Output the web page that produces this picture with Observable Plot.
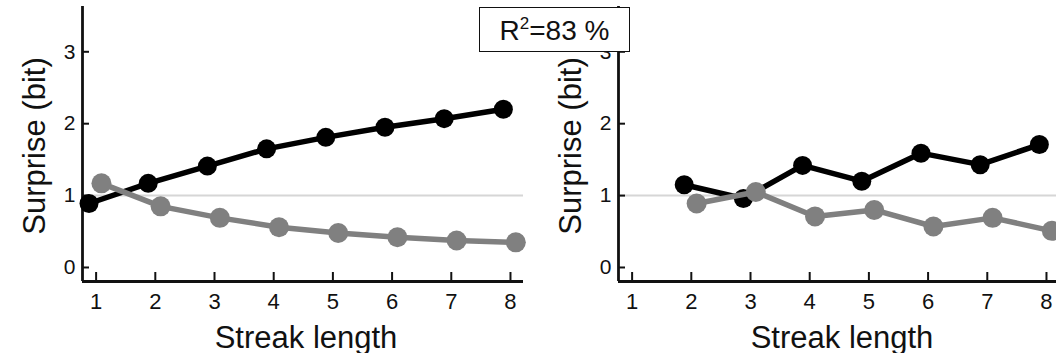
<!DOCTYPE html>
<html><head><meta charset="utf-8">
<script src="https://cdn.jsdelivr.net/npm/d3@7"></script>
<script src="https://cdn.jsdelivr.net/npm/@observablehq/plot@0.6"></script>
<style>
html,body{margin:0;padding:0;background:#fff;}
#wrap{position:relative;width:1056px;height:353px;overflow:hidden;font-family:"Liberation Sans",Arial,sans-serif;}
.panel{position:absolute;top:0;width:541px;height:353px;}
.panel svg{max-width:none !important;}
#r2{position:absolute;left:479px;top:7px;width:149px;height:43px;border:1.5px solid #111;background:#fff;font-size:28px;line-height:45px;text-align:center;color:#111;white-space:nowrap;}
#r2 .sup{font-size:17px;position:relative;top:-11px;}
</style></head><body>
<div id="wrap">
  <div id="left" class="panel" style="left:0px"></div>
  <div id="right" class="panel" style="left:536px"></div>
  <div id="r2">R<span class="sup">2</span>=83 %</div>
</div>
<script>
// data
const leftStreak = [1, 2, 3, 4, 5, 6, 7, 8];
const leftBlack  = [0.89, 1.17, 1.41, 1.65, 1.81, 1.95, 2.07, 2.20];
const leftGray   = [1.17, 0.85, 0.69, 0.56, 0.48, 0.42, 0.375, 0.35];
const rightStreak = [2, 3, 4, 5, 6, 7, 8];
const rightBlack  = [1.15, 0.96, 1.42, 1.20, 1.59, 1.43, 1.71];
const rightGray   = [0.89, 1.05, 0.71, 0.80, 0.57, 0.69, 0.51];
const xTicks = [1, 2, 3, 4, 5, 6, 7, 8];
const yTicks = [0, 1, 2, 3];
const xLabel = "Streak length";
const yLabel = "Surprise (bit)";
const refValue = 1;

const xDomain = [0.77, 8.22];
const yDomain = [-0.195, 3.63];
const blackShift = -0.12, grayShift = 0.09;

function panel(xs, black, gray) {
  const B = xs.map((x, i) => ({x: x + blackShift, y: black[i]}));
  const G = xs.map((x, i) => ({x: x + grayShift, y: gray[i]}));
  return Plot.plot({
    width: 541, height: 353,
    marginLeft: 82, marginRight: 18, marginTop: 6, marginBottom: 72,
    x: {domain: xDomain},
    y: {domain: yDomain},
    style: {fontFamily: "'Liberation Sans', Arial, sans-serif", background: "transparent", color: "#111", overflow: "visible", maxWidth: "none"},
    marks: [
      Plot.ruleY([refValue], {stroke: "#d6d6d6", strokeWidth: 2}),
      Plot.axisX(xTicks, {tickSize: -9, tickPadding: 21, fontSize: 22, strokeWidth: 2, tickFormat: d3.format("d"), label: null}),
      Plot.axisY(yTicks, {tickSize: -7, tickPadding: 14, fontSize: 21, strokeWidth: 2, tickFormat: d3.format("d"), label: null}),
      Plot.ruleX([xDomain[0]], {stroke: "#111", strokeWidth: 2.8}),
      Plot.ruleY([yDomain[0]], {stroke: "#111", strokeWidth: 2.8}),
      Plot.line(B, {x: "x", y: "y", stroke: "#000", strokeWidth: 5.5}),
      Plot.dot(B, {x: "x", y: "y", r: 9.5, fill: "#000", stroke: "none"}),
      Plot.line(G, {x: "x", y: "y", stroke: "#808080", strokeWidth: 5.5}),
      Plot.dot(G, {x: "x", y: "y", r: 10, fill: "#808080", stroke: "none"}),
      Plot.text([xLabel], {text: d => d, frameAnchor: "bottom", dx: 3, dy: 66, lineAnchor: "bottom", textAnchor: "middle", fontSize: 31, fill: "#111"}),
      Plot.text([yLabel], {text: d => d, frameAnchor: "left", dx: -38, dy: 2, rotate: -90, lineAnchor: "bottom", textAnchor: "middle", fontSize: 31, fill: "#111"})
    ]
  });
}

document.getElementById("left").append(panel(leftStreak, leftBlack, leftGray));
document.getElementById("right").append(panel(rightStreak, rightBlack, rightGray));
</script>
</body></html>
